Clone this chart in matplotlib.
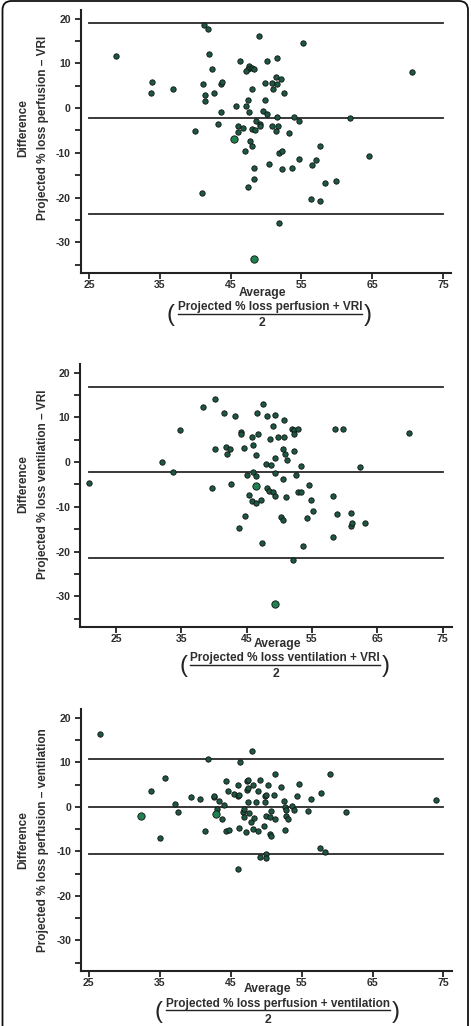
import numpy as np
import matplotlib
matplotlib.use("Agg")
import matplotlib.pyplot as plt
from matplotlib.ticker import MultipleLocator, FixedLocator, FuncFormatter
from matplotlib.patches import FancyBboxPatch
from matplotlib.lines import Line2D
from matplotlib.transforms import IdentityTransform

plt.rcParams["font.family"] = ["Liberation Sans", "DejaVu Sans"]
plt.rcParams["font.weight"] = "bold"

W, H = 471, 1026

# ---- panel 1: perfusion vs VRI ----
p1_x = [28.8, 41.2, 41.8, 49.0, 55.2, 41.9, 46.3, 50.2, 51.5, 42.4, 47.6, 47.4,
        47.1, 48.0, 48.3, 70.7, 33.9, 33.7, 36.8, 41.1, 43.6, 43.8, 49.8, 50.8,
        51.4, 52.1, 51.6, 51.0, 48.0, 52.6, 41.4, 42.6, 41.4, 47.4, 49.9, 45.8,
        47.2, 47.6, 43.6, 49.6, 50.2, 51.5, 53.9, 54.6, 61.8, 48.6, 49.1, 49.1,
        43.2, 46.1, 46.8, 46.0, 39.9, 48.0, 48.4, 50.9, 51.7, 51.4, 53.2, 47.7,
        48.0, 47.0, 51.9, 52.2, 57.6, 64.5, 50.4, 48.3, 52.2, 53.7, 54.6, 56.5,
        57.1, 48.3, 47.5, 58.3, 59.9, 41.0, 56.3, 57.6, 51.8]
p1_y = [11.7, 18.5, 17.7, 16.1, 14.6, 12.0, 10.6, 10.5, 11.1, 8.8, 9.4, 8.8,
        8.2, 8.9, 8.7, 8.0, 5.9, 3.3, 4.3, 5.3, 5.3, 5.7, 5.6, 5.6,
        6.9, 6.4, 5.3, 4.2, 4.2, 3.3, 2.9, 3.3, 1.5, 1.9, 1.9, 0.4,
        0.4, -0.8, -0.8, -0.7, -1.4, -1.9, -2.0, -2.8, -2.3, -2.8, -3.6, -4.0,
        -3.5, -4.1, -4.4, -5.4, -5.2, -4.6, -4.9, -4.0, -4.0, -5.1, -5.6, -7.3,
        -8.6, -9.5, -10.1, -9.6, -8.4, -10.8, -12.4, -13.3, -13.6, -13.5, -11.5, -12.8,
        -11.7, -15.9, -17.6, -16.7, -16.3, -19.1, -20.3, -20.7, -25.7]
p1_big_x = [45.4, 48.3]
p1_big_y = [-7.0, -33.7]
p1_limits = [19.0, -2.3, -23.7]   # upper LoA, mean, lower LoA

# ---- panel 2: ventilation vs VRI ----
p2_x = [20.9, 32.1, 33.8, 34.8, 38.3, 40.2, 40.1, 39.7, 41.5, 43.3, 41.8, 42.4,
        42.0, 42.6, 44.1, 44.2, 44.6, 45.0, 45.3, 44.7, 43.9, 47.5, 46.6, 48.2,
        49.4, 50.7, 49.1, 46.7, 45.9, 46.0, 46.5, 48.6, 49.8, 50.8, 50.5, 50.9,
        51.2, 49.4, 47.9, 48.8, 49.3, 46.0, 46.5, 50.6, 48.2, 48.5, 49.0, 49.3,
        45.8, 46.5, 47.2, 51.1, 51.9, 52.3, 52.8, 52.3, 52.3, 53.3, 52.6, 52.8,
        53.4, 54.5, 54.8, 55.1, 54.2, 50.3, 50.6, 53.7, 47.4, 52.1, 58.6, 59.8,
        58.2, 58.8, 58.2, 61.0, 61.0, 61.2, 63.2, 62.4, 69.8]
p2_y = [-4.6, 0.0, -2.2, 7.2, 12.4, 14.1, 3.0, -5.9, 10.9, 10.3, 3.4, 2.9,
        1.8, -5.0, 6.7, 6.2, 3.1, -3.0, -7.3, -12.1, -14.8, 12.9, 11.0, 10.2,
        10.6, 9.3, 8.0, 6.2, 5.6, 3.9, 1.6, 5.1, 5.5, 5.5, 3.0, 1.9,
        0.5, 0.8, -0.5, -0.6, -2.4, -2.2, -3.1, -3.7, -5.7, -6.4, -6.8, -7.6,
        -8.7, -9.2, -8.6, -7.9, 7.4, 7.2, 7.4, 6.3, 2.5, -1.0, -3.0, -6.7,
        -6.7, -5.1, -8.5, -11.0, -12.5, -12.3, -13.0, -18.8, -18.1, -21.8, 7.4, 7.4,
        -7.5, -11.7, -16.8, -11.4, -14.2, -13.6, -13.7, -1.2, 6.5]
p2_big_x = [46.4, 49.4]
p2_big_y = [-5.3, -31.7]
p2_limits = [16.8, -2.3, -21.5]

# ---- panel 3: perfusion vs ventilation ----
p3_x = [26.6, 33.8, 35.8, 35.1, 37.1, 37.6, 39.4, 40.7, 41.4, 41.8, 42.6, 42.7,
        43.1, 43.4, 44.0, 43.8, 44.3, 44.6, 44.4, 44.8, 45.5, 46.0, 46.0, 46.2,
        46.3, 46.2, 46.0, 47.1, 46.7, 46.9, 46.9, 47.3, 47.5, 47.3, 47.5, 47.4,
        47.6, 48.0, 48.1, 47.9, 48.1, 48.3, 48.5, 48.8, 48.9, 49.1, 49.1, 49.7,
        49.8, 50.0, 49.9, 50.0, 50.3, 50.0, 50.0, 50.6, 50.7, 50.6, 50.7, 51.1,
        51.3, 51.3, 52.1, 52.5, 52.6, 52.8, 52.8, 53.1, 52.6, 53.6, 53.9, 54.3,
        54.6, 55.9, 56.3, 57.7, 57.6, 58.3, 59.0, 61.3, 73.9]
p3_y = [16.4, 3.5, 6.5, -6.9, 0.65, -1.2, 2.2, 1.7, -5.4, 10.7, 2.1, 2.4,
        -0.4, 1.4, 0.4, -2.8, 5.9, 3.6, -5.4, -5.2, 2.9, 5.0, 2.5, 2.6,
        10.1, -4.85, -13.9, -5.6, -1.1, -0.5, -2.25, 5.9, 6.0, 3.7, 4.3, 1.1,
        -1.4, 12.6, 5.0, -3.4, -5.0, -2.4, 1.0, -5.45, 3.6, 6.0, -11.25, -4.4,
        2.5, 2.6, 1.1, -2.0, 4.97, -10.7, -11.6, -2.3, -0.9, -6.2, -6.5, 2.7,
        -2.8, 7.4, 4.5, 1.25, 0.06, -0.7, -2.0, -2.7, -5.2, 0.1, -0.76, 2.5,
        5.1, -0.9, 1.8, 3.0, -9.2, -10.2, 7.3, -1.06, 1.6]
p3_big_x = [32.4, 42.9]
p3_big_y = [-2.0, -1.65]
p3_limits = [10.85, 0.0, -10.65]

ylabels = ["Projected % loss perfusion \u2013 VRI",
           "Projected % loss ventilation \u2013 VRI",
           "Projected % loss perfusion \u2013 ventilation"]
numerators = ["Projected % loss perfusion + VRI",
              "Projected % loss ventilation + VRI",
              "Projected % loss perfusion + ventilation"]
xlims = [(23.8, 76.1), (19.5, 76.4), (23.9, 76.2)]
x_ticks = [25, 35, 45, 55, 65, 75]

# layout in pixels (left, right, top, bottom of axes)
boxes = [(80.7, 450.7, 10, 272.7), (80, 451.7, 364, 626.7), (81, 452, 709.3, 970.7)]
# label pixel positions
lbl = [
    dict(dy=128, avg=(262, 293), num=(270, 307), den=(262, 323)),
    dict(dy=484, avg=(277.7, 644), num=(285, 658.5), den=(275.7, 674)),
    dict(dy=840, avg=(267.7, 989.3), num=(278, 1003.5), den=(268, 1020)),
]

DOT = "#1c5840"
DOT_BIG = "#1f8050"
LINE_C = "#2a2a2a"
TXT = "#2e2e2e"

fig = plt.figure(figsize=(W / 100, H / 100), dpi=100)


def fx(px):
    return px / W


def fy(py):
    return 1 - py / H


panels = [
    (p1_x, p1_y, p1_big_x, p1_big_y, p1_limits),
    (p2_x, p2_y, p2_big_x, p2_big_y, p2_limits),
    (p3_x, p3_y, p3_big_x, p3_big_y, p3_limits),
]

num_texts = []
for i, (xs, ys, bx, by, lims) in enumerate(panels):
    l, r, t, b = boxes[i]
    ax = fig.add_axes([fx(l), fy(b), (r - l) / W, (b - t) / H])
    ax.set_xlim(*xlims[i])
    ax.set_ylim(-36.8, 21.9)
    for s in ("top", "right"):
        ax.spines[s].set_visible(False)
    for s in ("left", "bottom"):
        ax.spines[s].set_linewidth(1.5)
        ax.spines[s].set_color("#222222")

    x0 = min(25, min(xs))
    for v in lims:
        ax.plot([x0, 75], [v, v], color=LINE_C, lw=1.3, zorder=1)

    ax.scatter(xs, ys, s=15, c=DOT, edgecolors="#111111", linewidths=0.6, zorder=3)
    ax.scatter(bx, by, s=28, c=DOT_BIG, edgecolors="#111111", linewidths=0.6, zorder=3)

    ax.xaxis.set_major_locator(FixedLocator(x_ticks))
    ax.yaxis.set_major_locator(MultipleLocator(5))
    ax.yaxis.set_major_formatter(FuncFormatter(
        lambda v, p: f"{int(round(v))}" if round(v) % 10 == 0 else ""))
    ax.tick_params(axis="both", direction="out", length=4, width=1.3,
                   colors="#222222", labelsize=7.6, labelcolor=TXT)
    ax.tick_params(axis="y", pad=3)
    ax.tick_params(axis="x", pad=1.5)
    for lab in ax.get_xticklabels() + ax.get_yticklabels():
        lab.set_fontweight("bold")

    d = lbl[i]
    fig.text(fx(23), fy(d["dy"]), "Difference", rotation=90, ha="center",
             va="center", fontsize=8.5, color=TXT)
    fig.text(fx(43), fy(d["dy"]), ylabels[i], rotation=90, ha="center",
             va="center", fontsize=8.5, color=TXT)
    fig.text(fx(d["avg"][0]), fy(d["avg"][1]), "Average", ha="center",
             va="center", fontsize=8.7, color=TXT)
    nt = fig.text(fx(d["num"][0]), fy(d["num"][1]), numerators[i], ha="center",
                  va="center", fontsize=8.5, color=TXT)
    num_texts.append((nt, d))
    fig.text(fx(d["den"][0]), fy(d["den"][1]), "2", ha="center",
             va="center", fontsize=8.7, color=TXT)

# fraction bars and brackets around each fraction, placed from the text extent
fig.canvas.draw()
renderer = fig.canvas.get_renderer()
for nt, d in num_texts:
    bb = nt.get_window_extent(renderer)
    ybar = bb.y0 - 0.5
    fig.add_artist(Line2D([bb.x0, bb.x1], [ybar, ybar], transform=IdentityTransform(),
                          color="#222222", lw=1.0))
    pc_y = fy((d["num"][1] + d["den"][1]) / 2)
    fig.text((bb.x0 - 7) / W, pc_y, "(", ha="center", va="center",
             fontsize=17, fontweight="normal", color="#222222")
    fig.text((bb.x1 + 6) / W, pc_y, ")", ha="center", va="center",
             fontsize=17, fontweight="normal", color="#222222")

# outer rounded frame (open at the bottom)
frame = FancyBboxPatch((2.5, -30), W - 5.5, H + 29, boxstyle="round,pad=0,rounding_size=9",
                       transform=IdentityTransform(), fill=False, edgecolor="#111111",
                       lw=1.3)
fig.add_artist(frame)

fig.savefig("out.png", dpi=100)
